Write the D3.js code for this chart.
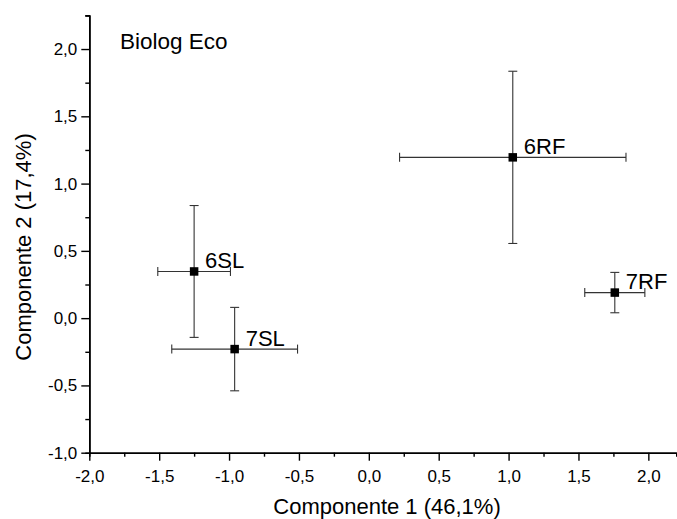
<!DOCTYPE html>
<html>
<head>
<meta charset="utf-8">
<script src="https://cdn.jsdelivr.net/npm/d3@7"></script>
<style>
  body { margin: 0; background: #fff; }
  svg { display: block; font-family: Arial, "Liberation Sans", sans-serif; }
</style>
</head>
<body>
<div class="chart"></div>
<script>
// samples (PCA scores with std errors)
const labels = ['6SL', '7SL', '6RF', '7RF']
const xValues = [-1.25, -0.96, 1.03, 1.76]
const yValues = [0.347, -0.23, 1.195, 0.19]
const xErrors = [0.26, 0.45, 0.81, 0.215]
const yErrors = [0.49, 0.31, 0.64, 0.15]

// axis ticks
const xTicks = [-2.0, -1.5, -1.0, -0.5, 0.0, 0.5, 1.0, 1.5, 2.0]
const xMinorTicks = [-1.75, -1.25, -0.75, -0.25, 0.25, 0.75, 1.25, 1.75]
const yTicks = [-1.0, -0.5, 0.0, 0.5, 1.0, 1.5, 2.0]
const yMinorTicks = [-0.75, -0.25, 0.25, 0.75, 1.25, 1.75, 2.25]

const title = 'Biolog Eco'
const xTitle = 'Componente 1 (46,1%)'
const yTitle = 'Componente 2 (17,4%)'

const width = 677
const height = 519

const data = labels.map((name, i) => {
  return {
    name: name,
    x: xValues[i],
    y: yValues[i],
    ex: xErrors[i],
    ey: yErrors[i]
  }
})

const fmt = d => d.toFixed(1).replace('.', ',')

const svg = d3
  .select('.chart')
  .append('svg')
  .attr('width', width)
  .attr('height', height)

const xScale = d3
  .scaleLinear()
  .domain([-2, 2.2])
  .range([89.3, 676.3])

const yScale = d3
  .scaleLinear()
  .domain([-1, 2.25])
  .range([452.7, 15.4])

const x0 = xScale.range()[0]
const y0 = yScale.range()[0]

// minor ticks first, then major axes on top
svg
  .append('g')
  .attr('transform', `translate(0, ${y0})`)
  .call(d3.axisBottom(xScale).tickValues(xMinorTicks).tickSize(4).tickFormat(''))
svg
  .append('g')
  .attr('transform', `translate(${x0}, 0)`)
  .call(d3.axisLeft(yScale).tickValues(yMinorTicks).tickSize(4).tickFormat(''))

const xAxis = svg
  .append('g')
  .attr('id', 'xAxis')
  .attr('transform', `translate(0, ${y0})`)
  .call(d3.axisBottom(xScale).tickValues(xTicks).tickSize(8).tickPadding(6).tickFormat(fmt).tickSizeOuter(0))
const yAxis = svg
  .append('g')
  .attr('id', 'yAxis')
  .attr('transform', `translate(${x0}, 0)`)
  .call(d3.axisLeft(yScale).tickValues(yTicks).tickSize(8).tickPadding(4).tickFormat(fmt).tickSizeOuter(0))

svg.selectAll('.domain').attr('stroke', '#000').attr('stroke-width', 1.6)
svg.selectAll('.tick line').attr('stroke', '#000').attr('stroke-width', 1.4)
svg.selectAll('.tick text')
  .attr('fill', '#000')
  .style('font-size', '17px')
  .style('font-family', 'Arial, "Liberation Sans", sans-serif')
xAxis.selectAll('.tick text').attr('dy', '0.92em')

// axis titles
svg
  .append('text')
  .attr('x', 387)
  .attr('y', 514)
  .attr('text-anchor', 'middle')
  .style('font-size', '22px')
  .text(xTitle)
svg
  .append('text')
  .attr('transform', 'translate(31, 247) rotate(-90)')
  .attr('text-anchor', 'middle')
  .style('font-size', '22px')
  .text(yTitle)

svg
  .append('text')
  .attr('x', 120)
  .attr('y', 49)
  .style('font-size', '22.5px')
  .text(title)

// error bars
const cap = 4.5
const bars = svg
  .append('g')
  .attr('stroke', '#333')
  .attr('stroke-width', 1.1)
  .selectAll('g')
  .data(data)
  .enter()
  .append('g')

bars.append('line')
  .attr('x1', d => xScale(d.x - d.ex))
  .attr('x2', d => xScale(d.x + d.ex))
  .attr('y1', d => yScale(d.y))
  .attr('y2', d => yScale(d.y))
bars.append('line')
  .attr('x1', d => xScale(d.x))
  .attr('x2', d => xScale(d.x))
  .attr('y1', d => yScale(d.y - d.ey))
  .attr('y2', d => yScale(d.y + d.ey))
// caps
bars.append('line')
  .attr('x1', d => xScale(d.x - d.ex))
  .attr('x2', d => xScale(d.x - d.ex))
  .attr('y1', d => yScale(d.y) - cap)
  .attr('y2', d => yScale(d.y) + cap)
bars.append('line')
  .attr('x1', d => xScale(d.x + d.ex))
  .attr('x2', d => xScale(d.x + d.ex))
  .attr('y1', d => yScale(d.y) - cap)
  .attr('y2', d => yScale(d.y) + cap)
bars.append('line')
  .attr('x1', d => xScale(d.x) - cap)
  .attr('x2', d => xScale(d.x) + cap)
  .attr('y1', d => yScale(d.y + d.ey))
  .attr('y2', d => yScale(d.y + d.ey))
bars.append('line')
  .attr('x1', d => xScale(d.x) - cap)
  .attr('x2', d => xScale(d.x) + cap)
  .attr('y1', d => yScale(d.y - d.ey))
  .attr('y2', d => yScale(d.y - d.ey))

// square markers
const size = 8.5
svg
  .append('g')
  .selectAll('rect')
  .data(data)
  .enter()
  .append('rect')
  .attr('x', d => xScale(d.x) - size / 2)
  .attr('y', d => yScale(d.y) - size / 2)
  .attr('width', size)
  .attr('height', size)
  .attr('fill', '#000')

// point labels
svg
  .append('g')
  .selectAll('text')
  .data(data)
  .enter()
  .append('text')
  .attr('x', d => xScale(d.x) + 11)
  .attr('y', d => yScale(d.y) - 3.5)
  .style('font-size', '22px')
  .text(d => d.name)
</script>
</body>
</html>
